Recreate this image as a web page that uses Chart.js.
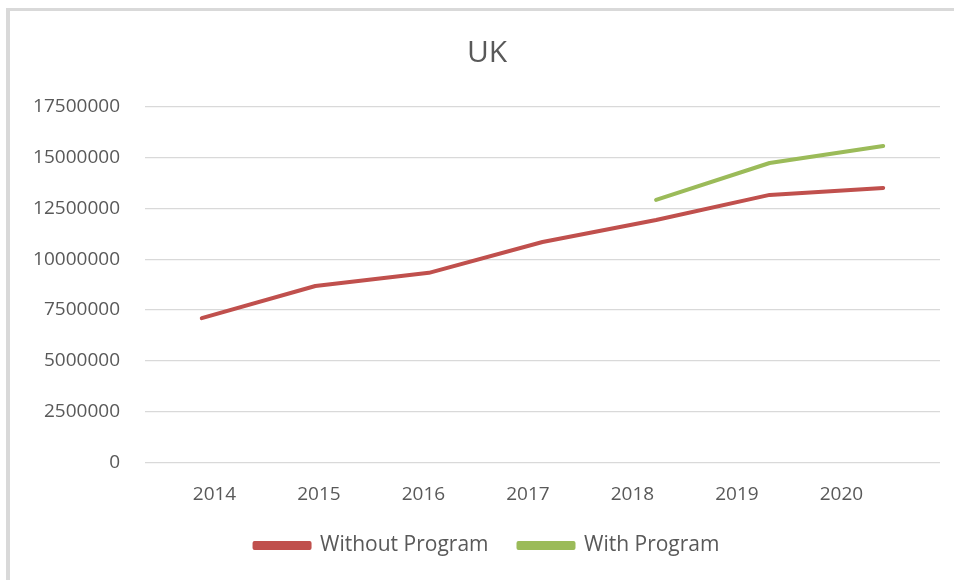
<!DOCTYPE html>
<html>
<head>
<meta charset="utf-8">
<script src="https://cdn.jsdelivr.net/npm/chart.js@4/dist/chart.umd.min.js"></script>
<style>
  html, body { margin: 0; padding: 0; background: #fff; overflow: hidden; }
  #wrap { position: relative; width: 954px; height: 580px; overflow: hidden; }
  #frame { position: absolute; left: 6px; top: 8px; width: 2000px; height: 2000px;
           border-left: 4px solid #d9d9d9; border-top: 3px solid #d9d9d9; }
  canvas { position: absolute; left: 0; top: 0; }
</style>
</head>
<body>
<div id="wrap">
  <div id="frame"></div>
  <canvas id="chart" width="954" height="580"></canvas>
</div>
<script>
// values
const years = ['2014', '2015', '2016', '2017', '2018', '2019', '2020'];
const withoutProgram = [7100000, 8680000, 9330000, 10850000, 11930000, 13170000, 13510000];
const withProgram = [null, null, null, null, 12920000, 14740000, 15580000];
const yTicks = [0, 2500000, 5000000, 7500000, 10000000, 12500000, 15000000, 17500000];

const textColor = '#595959';
const gridColor = '#d9d9d9';

const ctx = document.getElementById('chart').getContext('2d');

new Chart(ctx, {
  type: 'line',
  data: {
    labels: years,
    datasets: [
      {
        label: 'Without Program',
        data: withoutProgram,
        borderColor: '#c0504d',
        backgroundColor: '#c0504d',
        borderWidth: 4,
        pointRadius: 0,
        tension: 0,
        borderCapStyle: 'round',
        borderJoinStyle: 'round'
      },
      {
        label: 'With Program',
        data: withProgram,
        borderColor: '#9bbb59',
        backgroundColor: '#9bbb59',
        borderWidth: 4,
        pointRadius: 0,
        tension: 0,
        borderCapStyle: 'round',
        borderJoinStyle: 'round'
      }
    ]
  },
  options: {
    responsive: false,
    animation: false,
    layout: { padding: { left: 34, right: 14, top: 0, bottom: 14 } },
    plugins: {
      title: {
        display: true,
        text: 'UK',
        color: textColor,
        font: { family: 'Open Sans', size: 30, weight: 'normal' },
        padding: { top: 35, bottom: 36 }
      },
      legend: {
        position: 'bottom',
        labels: {
          color: textColor,
          font: { family: 'Open Sans', size: 21 },
          boxWidth: 55,
          boxHeight: 5,
          padding: 30
        }
      },
      tooltip: { enabled: false }
    },
    scales: {
      x: {
        type: 'category',
        offset: true,
        display: false
      },
      // the year labels sit a little off the line points in the original
      x2: {
        type: 'linear',
        position: 'bottom',
        min: -0.665,
        max: 6.943,
        afterBuildTicks: scale => {
          scale.ticks = years.map((y, i) => ({ value: i }));
        },
        afterFit: scale => { scale.height -= 22; },
        ticks: {
          color: textColor,
          font: { family: 'Open Sans', size: 19 },
          padding: 21,
          maxRotation: 0,
          autoSkip: false,
          callback: v => years[v]
        },
        grid: { display: false, drawTicks: false },
        border: { display: false }
      },
      y: {
        min: 0,
        max: 17500000,
        afterBuildTicks: scale => {
          scale.ticks = yTicks.map(v => ({ value: v }));
        },
        afterFit: scale => { scale.width = 111; },
        ticks: {
          color: textColor,
          font: { family: 'Open Sans', size: 19 },
          padding: 25,
          callback: v => String(v)
        },
        grid: { color: gridColor, lineWidth: 1.3, drawTicks: false },
        border: { display: false }
      }
    }
  }
});
</script>
</body>
</html>
